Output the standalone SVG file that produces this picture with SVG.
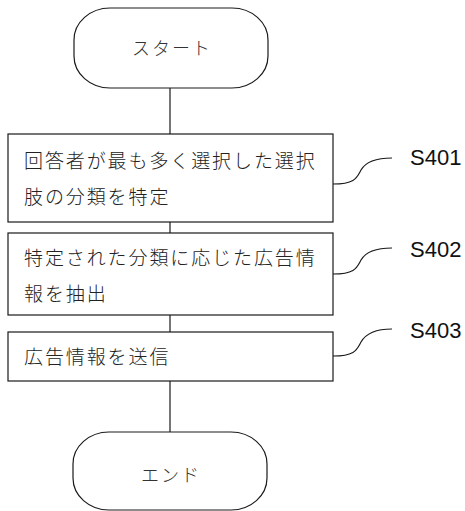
<svg xmlns="http://www.w3.org/2000/svg" width="465" height="511" viewBox="0 0 465 511">
<style>
.shape{fill:#fff;stroke:#1a1a1a;stroke-width:1.2}
.conn{fill:none;stroke:#1a1a1a;stroke-width:1.2}
.jp{font-family:"Noto Sans CJK JP","Noto Sans CJK SC",sans-serif;font-size:19px;font-weight:300;fill:#222;letter-spacing:1.9px}
.term{font-family:"Noto Sans CJK JP","Noto Sans CJK SC",sans-serif;font-size:18px;font-weight:300;fill:#333;text-anchor:middle;letter-spacing:2px}
.lbl{font-family:"Liberation Sans",Arial,sans-serif;font-size:22px;fill:#111}
</style>
<g id="connectors">
<line class="conn" x1="170" y1="88" x2="170" y2="134"/>
<line class="conn" x1="170" y1="222" x2="170" y2="233"/>
<line class="conn" x1="170" y1="315" x2="170" y2="332"/>
<line class="conn" x1="170" y1="381" x2="170" y2="432"/>
<path class="conn" d="M333,184 C356,184 357,177 361,170 C365,163 374,158 392,158"/>
<path class="conn" d="M333,274 C356,274 357,267 361,260 C365,253 374,248 392,248"/>
<path class="conn" d="M333,356 C356,356 357,349 361,342 C365,335 374,329 392,329"/>
</g>
<g id="start">
<rect class="shape" x="74" y="8" width="194" height="80" rx="36" ry="32"/>
<text class="term" x="172" y="55">スタート</text>
</g>
<g id="s401">
<rect class="shape" x="8" y="134" width="325" height="88"/>
<text class="jp" x="24" y="167.5">回答者が最も多く選択した選択</text>
<text class="jp" x="24" y="203.5">肢の分類を特定</text>
<text class="lbl" x="410" y="165">S401</text>
</g>
<g id="s402">
<rect class="shape" x="8" y="233" width="325" height="82"/>
<text class="jp" x="24" y="265">特定された分類に応じた広告情</text>
<text class="jp" x="24" y="301">報を抽出</text>
<text class="lbl" x="410" y="257">S402</text>
</g>
<g id="s403">
<rect class="shape" x="8" y="332" width="325" height="49"/>
<text class="jp" x="24" y="364">広告情報を送信</text>
<text class="lbl" x="410" y="338">S403</text>
</g>
<g id="end">
<rect class="shape" x="73" y="432" width="194" height="78" rx="36" ry="32"/>
<text class="term" x="171" y="482">エンド</text>
</g>
</svg>
